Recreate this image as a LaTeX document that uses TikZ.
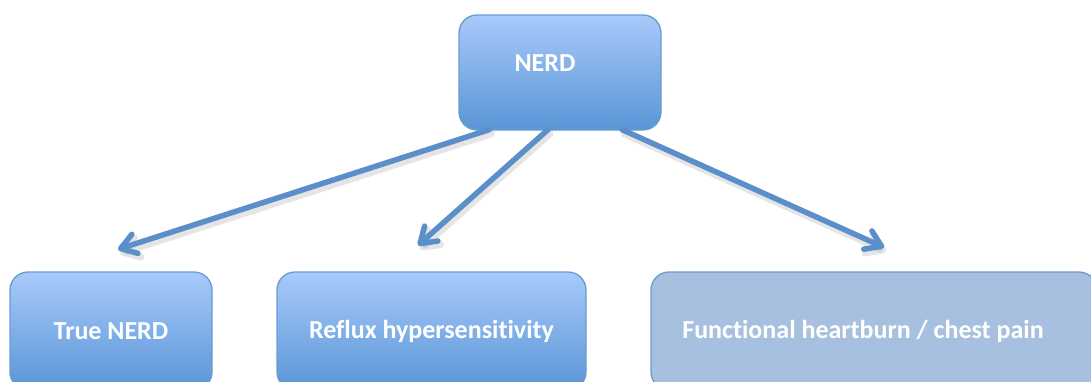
\documentclass[tikz,border=0pt]{standalone}
\usepackage{fontspec}
\setmainfont{Carlito}[Ligatures={NoCommon,NoContextual}]
\usetikzlibrary{arrows.meta,calc}
\definecolor{boxtop}{HTML}{A7CAFB}
\definecolor{boxbot}{HTML}{5A95D6}
\definecolor{boxline}{HTML}{6A9BD0}
\definecolor{flatfill}{HTML}{A7C0DF}
\definecolor{arrcol}{HTML}{5B8FCA}
\tikzset{
  box/.style={draw=boxline, line width=1.3pt, rounded corners=18pt,
    top color=boxtop, bottom color=boxbot, inner sep=0pt},
  flatbox/.style={draw=boxline, line width=1.3pt, rounded corners=18pt,
    fill=flatfill, inner sep=0pt},
  lbl/.style={text=white, font=\bfseries\fontsize{26pt}{30pt}\selectfont, inner sep=0pt},
  arr/.style={draw=arrcol, line width=5.5pt, line cap=round,
    -{Straight Barb[length=15pt,width=20pt,round]}},
  arrshadow/.style={draw=black, draw opacity=0.10, line width=7pt, line cap=round,
    -{Straight Barb[length=15pt,width=20pt,round]}}
}
\begin{document}
\begin{tikzpicture}[x=1pt,y=-1pt]
\useasboundingbox (0,0) rectangle (1091,381);
\clip (0,0) rectangle (1091,381);
\fill[white] (0,0) rectangle (1091,381);
% nodes
\node[box, minimum width=202pt, minimum height=115pt] (nerd) at (560,72.5) {};
\node[lbl] (nerdt) at ([xshift=-15pt,yshift=9pt]nerd.center) {NERD};
\node[box, minimum width=202pt, minimum height=118pt] (true) at (111,331) {};
\node[lbl] (truet) at (true.center) {True NERD};
\node[box, minimum width=309pt, minimum height=118pt] (reflux) at (431.5,331) {};
\node[lbl] (refluxt) at (reflux.center) {Reflux hypersensitivity};
\node[flatbox, minimum width=446pt, minimum height=118pt] (func) at (874,331) {};
\node[lbl] (funct) at ([xshift=-11pt]func.center) {Functional heartburn / chest pain};
% arrow ends
\coordinate (a1) at ([xshift=7pt,yshift=22pt]true.north);
\coordinate (a2) at ([xshift=-13.5pt,yshift=26pt]reflux.north);
\coordinate (a3) at ([xshift=10pt,yshift=24pt]func.north);
\coordinate (s1) at ([xshift=31pt,yshift=1pt]nerd.south west);
\coordinate (s2) at ([xshift=-12pt,yshift=1pt]nerd.south);
\coordinate (s3) at ([xshift=62pt,yshift=1pt]nerd.south);
% shadows
\begin{scope}[transform canvas={xshift=2pt,yshift=-4pt}]
\draw[arrshadow] (s1) -- (a1);
\draw[arrshadow] (s2) -- (a2);
\draw[arrshadow] (s3) -- (a3);
\end{scope}
% arrows
\draw[arr] (s1) -- (a1);
\draw[arr] (s2) -- (a2);
\draw[arr] (s3) -- (a3);
\end{tikzpicture}
\end{document}
